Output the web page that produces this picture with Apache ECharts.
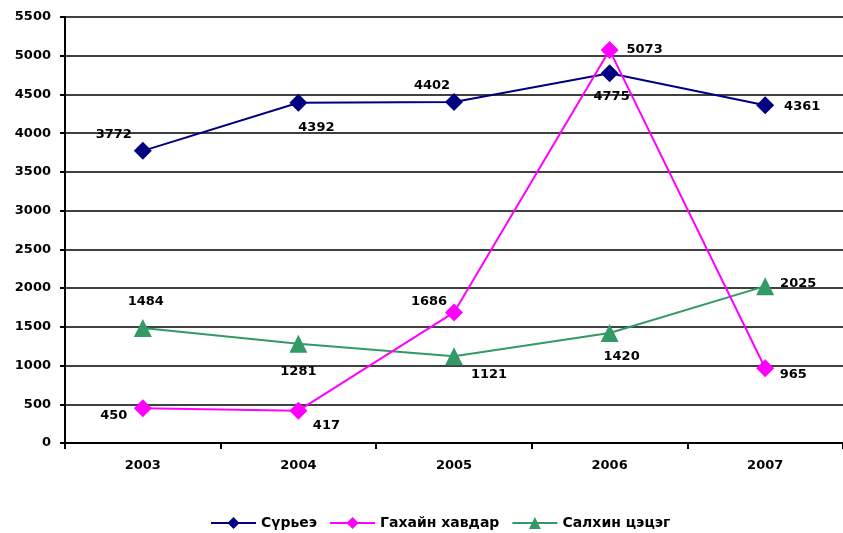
<!DOCTYPE html>
<html>
<head>
<meta charset="utf-8">
<script src="https://cdn.jsdelivr.net/npm/echarts@6/dist/echarts.min.js"></script>
<style>html,body{margin:0;padding:0;background:#fff}#c{width:843px;height:533px}</style>
</head>
<body>
<div id="c"></div>
<script>
const years = ['2003', '2004', '2005', '2006', '2007'];
const seriesNames = ['Сүрьеэ', 'Гахайн хавдар', 'Салхин цэцэг'];
const tuberculosis = [3772, 4392, 4402, 4775, 4361];
const mumps = [450, 417, 1686, 5073, 965];
const chickenpox = [1484, 1281, 1121, 1420, 2025];
const yTicks = [0, 500, 1000, 1500, 2000, 2500, 3000, 3500, 4000, 4500, 5000, 5500];

// label offsets (style only) relative to each point
const offTb = [[-29,-16],[18,25],[-22,-16],[2,23],[37,1]];
const offMu = [[-29,7],[28,15],[-25,-11],[35,0],[28,6]];
const offCp = [[3,-26],[0,28],[35,18],[12,24],[33,-3]];

const FONT = 'DejaVu Sans';
function mk(vals, offs) {
  return vals.map((v, i) => ({
    value: v,
    label: { show: true, position: 'inside', offset: offs[i] }
  }));
}
const labelStyle = { color: '#000', fontFamily: FONT, fontSize: 13, fontWeight: 'bold', formatter: '{c}' };

const chart = echarts.init(document.getElementById('c'), null, { renderer: 'canvas' });
chart.setOption({
  animation: false,
  backgroundColor: '#fff',
  textStyle: { fontFamily: FONT },
  grid: { left: 65, top: 17, width: 781, bottom: 90, containLabel: false },
  legend: {
    bottom: -2,
    left: 205,
    itemWidth: 45,
    itemHeight: 15,
    itemGap: 12,
    textStyle: { color: '#000', fontFamily: FONT, fontSize: 14, fontWeight: 'bold' },
    data: seriesNames
  },
  xAxis: {
    type: 'category',
    data: years,
    boundaryGap: true,
    axisLine: { lineStyle: { color: '#000', width: 2 } },
    axisTick: { show: true, length: 6, alignWithLabel: false, lineStyle: { color: '#000', width: 2 } },
    axisLabel: { color: '#000', fontFamily: FONT, fontSize: 13, fontWeight: 'bold', margin: 16 },
    splitLine: { show: false }
  },
  yAxis: {
    type: 'value',
    min: yTicks[0],
    max: yTicks[yTicks.length - 1],
    interval: 500,
    axisLine: { show: true, lineStyle: { color: '#000', width: 2 } },
    axisTick: { show: true, length: 5, lineStyle: { color: '#000', width: 2 } },
    axisLabel: { color: '#000', fontFamily: FONT, fontSize: 13, fontWeight: 'bold', margin: 14, formatter: (v) => String(v) },
    splitLine: { show: true, lineStyle: { color: '#000', width: 1.5 } }
  },
  series: [
    {
      name: seriesNames[0], type: 'line', data: mk(tuberculosis, offTb),
      symbol: 'diamond', symbolSize: 18, color: '#000080',
      lineStyle: { width: 2, color: '#000080' },
      itemStyle: { color: '#000080' },
      label: labelStyle, z: 3
    },
    {
      name: seriesNames[1], type: 'line', data: mk(mumps, offMu),
      symbol: 'diamond', symbolSize: 18, color: '#FF00FF',
      lineStyle: { width: 2, color: '#FF00FF' },
      itemStyle: { color: '#FF00FF' },
      label: labelStyle, z: 4
    },
    {
      name: seriesNames[2], type: 'line', data: mk(chickenpox, offCp),
      symbol: 'triangle', symbolSize: 18, color: '#339966',
      lineStyle: { width: 2, color: '#339966' },
      itemStyle: { color: '#339966' },
      label: labelStyle, z: 2
    }
  ]
});
</script>
</body>
</html>
